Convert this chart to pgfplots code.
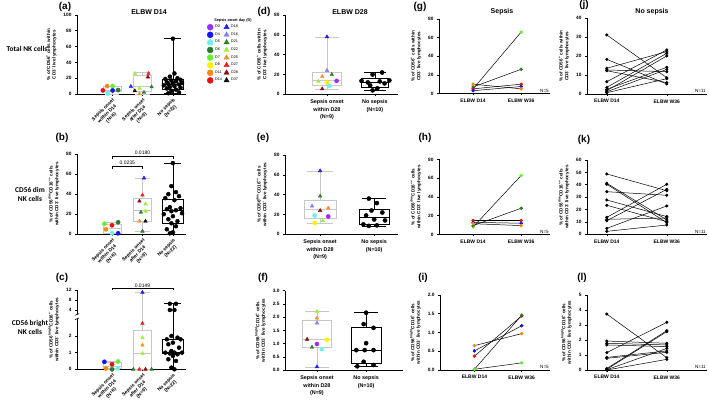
\documentclass[border=0pt]{standalone}
\usepackage{fontspec}
\setmainfont{Liberation Sans}
\newfontfamily\calib{Carlito}
\usepackage{pgfplots}
\pgfplotsset{compat=1.18}
\usepgfplotslibrary{statistics}

\definecolor{cD0}{HTML}{9B30FF}
\definecolor{cD4}{HTML}{1414F0}
\definecolor{cD5}{HTML}{70F0F0}
\definecolor{cD6}{HTML}{2A7A2A}
\definecolor{cD7}{HTML}{66EE33}
\definecolor{cD8}{HTML}{F5F500}
\definecolor{cD11}{HTML}{F08A10}
\definecolor{cD14}{HTML}{E81010}
\definecolor{cD18}{HTML}{2020F0}
\definecolor{cD16}{HTML}{8080F0}
\definecolor{cD21}{HTML}{2E7D2E}
\definecolor{cD22}{HTML}{99F033}
\definecolor{cD25}{HTML}{F59030}
\definecolor{cD27}{HTML}{F02020}
\definecolor{cD28}{HTML}{8B1010}
\definecolor{cD37}{HTML}{101010}
\definecolor{boxgray}{HTML}{C8C8C8}

\newcommand{\tf}{\fontsize{4.8}{5.4}\selectfont\bfseries}
\newcommand{\lf}{\fontsize{4.6}{5.6}\selectfont\bfseries}

\pgfplotsset{
  panel/.style={
    scale only axis, anchor=south west,
    axis lines=left, axis line style={line width=0.7pt, -},
    tick align=outside, major tick length=2pt,
    tick style={line width=0.6pt, black},
    ticklabel style={font=\tf},
    /pgf/number format/assume math mode=true,
    ylabel style={font=\lf, align=center},
    xticklabel style={align=center},
    ymin=0, clip=false,
    boxplot/draw direction=y,
  },
  rot/.style={xtick={0,1,2}, xticklabel style={rotate=45, anchor=north east, align=center, font=\fontsize{4.8}{5.8}\selectfont\bfseries, inner sep=1pt}},
  two/.style={xtick={0,1}, xticklabel style={font=\fontsize{5.4}{7.6}\selectfont\bfseries}},
  pairs/.style={xtick={0,1}, xticklabels={ELBW D14, ELBW W36}, xticklabel style={font=\fontsize{5}{6}\selectfont\bfseries}},
  sep/.style={scatter, only marks, scatter src=explicit symbolic, mark size=2.1pt,
    scatter/classes={
      d0={mark=*,cD0}, d4={mark=*,cD4}, d5={mark=*,cD5}, d6={mark=*,cD6},
      d7={mark=*,cD7}, d8={mark=*,cD8}, d11={mark=*,cD11}, d14={mark=*,cD14},
      d16={mark=triangle*,cD16}, d18={mark=triangle*,cD18}, d21={mark=triangle*,cD21},
      d22={mark=triangle*,cD22}, d25={mark=triangle*,cD25}, d27={mark=triangle*,cD27},
      d28={mark=triangle*,cD28}, d37={mark=triangle*,cD37}, k={mark=*,black}}},
  gbox/.style={draw=boxgray, line width=0.6pt, boxplot/draw direction=y},
  kbox/.style={draw=black, line width=0.7pt, boxplot/draw direction=y},
  pr/.style={black, line width=0.5pt, mark=*, mark size=1.3pt},
  cpr/.style={black, line width=0.5pt, mark=*, mark size=1.5pt, mark options={draw=#1, fill=#1}},
}

\begin{document}
\begin{tikzpicture}[x=1pt,y=1pt]
\path[use as bounding box] (0,0) rectangle (709,409);

% Row labels
\node[font=\calib\bfseries\fontsize{7.4}{9}\selectfont] at (27,360) {Total NK cells};
\node[font=\calib\bfseries\fontsize{7.4}{9}\selectfont, align=center] at (30,215) {CD56 dim\\NK cells};
\node[font=\calib\bfseries\fontsize{7.4}{9}\selectfont, align=center] at (30,82) {CD56 bright\\NK cells};

% Titles
\node[font=\bfseries\fontsize{7}{8}\selectfont] at (149,397) {ELBW D14};
\node[font=\bfseries\fontsize{7}{8}\selectfont] at (350,397) {ELBW D28};
\node[font=\bfseries\fontsize{7}{8}\selectfont] at (502,397) {Sepsis};
\node[font=\bfseries\fontsize{7}{8}\selectfont] at (652,397) {No sepsis};

% Panel letters
\begin{scope}[every node/.style={font=\bfseries\fontsize{10}{11}\selectfont}]
\node at (65,402) {(a)};
\node at (62,271) {(b)};
\node at (62,131) {(c)};
\node at (264,397) {(d)};
\node at (263,271) {(e)};
\node at (263,131) {(f)};
\node at (420,402) {(g)};
\node at (425,271) {(h)};
\node at (423,131) {(i)};
\node at (584,404) {(j)};
\node at (584,269) {(k)};
\node at (582,131) {(l)};
\end{scope}

% ---------- (a)
\begin{axis}[panel, rot, at={(77pt,315pt)}, width=109pt, height=79pt,
  xmin=-1.15, xmax=2.43, ymax=100, ytick={0,20,...,100},
  xticklabels={Sepsis onset\\within D14\\(N=6), Sepsis onset\\after D14\\(N=9), No sepsis\\(N=22)},
  ylabel={\% of CD56\textsuperscript{+} cells within\\CD3\textsuperscript{-} live lymphocytes}]
\addplot[gbox, boxplot prepared={lower whisker=0, lower quartile=3, median=5, upper quartile=9.5, upper whisker=10, draw position=0, box extend=0.6}] coordinates {};
\addplot[gbox, boxplot prepared={lower whisker=0, lower quartile=3.5, median=10, upper quartile=24, upper whisker=27, draw position=1, box extend=0.6}] coordinates {};
\addplot[kbox, boxplot prepared={lower whisker=1, lower quartile=6, median=12, upper quartile=18, upper whisker=70, draw position=2, box extend=0.7}] coordinates {};
\addplot[sep] table[row sep=\\, meta=c] {x y c\\ -0.16 10 d11\\ 0.02 10 d7\\ -0.3 4.5 d14\\ 0.02 4.5 d4\\ 0.2 5 d6\\ -0.14 0.5 d5\\};
\addplot[sep] table[row sep=\\, meta=c] {x y c\\ 0.75 26 d22\\ 1.2 26 d27\\ 1.18 21.5 d28\\ 0.62 9.5 d18\\ 0.75 4 d37\\ 0.9 7 d22\\ 1.05 2 d21\\ 0.9 0.5 d25\\ 1.3 9 d21\\};
\addplot[sep, mark size=2pt] table[row sep=\\, meta=c] {x y c\\ 2.0 70 k\\ 2.05 26 k\\ 1.9 22 k\\ 2.15 20 k\\ 1.75 19 k\\ 2.25 18 k\\ 1.95 17 k\\ 2.1 16 k\\ 1.8 15 k\\ 2.3 14 k\\ 2.0 13.5 k\\ 1.85 12.5 k\\ 2.2 12 k\\ 1.7 11 k\\ 2.05 10 k\\ 1.9 9 k\\ 2.25 8 k\\ 1.8 7 k\\ 2.1 5.5 k\\ 1.95 4 k\\ 2.2 2 k\\ 1.85 1 k\\};
\end{axis}

% ---------- (b)
\begin{axis}[panel, rot, at={(77pt,174.7pt)}, width=109pt, height=80.3pt,
  xmin=-1.15, xmax=2.43, ymax=80, ytick={0,20,...,80},
  xticklabels={Sepsis onset\\within D14\\(N=6), Sepsis onset\\after D14\\(N=9), No sepsis\\(N=22)},
  ylabel={\% of CD56\textsuperscript{dim}CD16\textsuperscript{++} cells\\within CD3\textsuperscript{-} live lymphocytes}]
\addplot[gbox, boxplot prepared={lower whisker=1, lower quartile=1, median=6, upper quartile=9.5, upper whisker=12, draw position=0, box extend=0.6}] coordinates {};
\addplot[gbox, boxplot prepared={lower whisker=3, lower quartile=13, median=23.5, upper quartile=36, upper whisker=56, draw position=1, box extend=0.6}] coordinates {};
\addplot[kbox, boxplot prepared={lower whisker=0, lower quartile=11, median=23.5, upper quartile=35, upper whisker=71, draw position=2, box extend=0.7}] coordinates {};
\addplot[sep] table[row sep=\\, meta=c] {x y c\\ -0.25 10.5 d7\\ 0.0 9 d14\\ 0.2 12 d6\\ -0.2 5 d11\\ 0.0 1 d5\\ 0.2 1 d4\\};
\addplot[sep] table[row sep=\\, meta=c] {x y c\\ 1.05 56 d18\\ 1.0 39 d27\\ 0.9 33 d28\\ 1.1 30 d22\\ 1.1 23 d22\\ 0.95 22 d21\\ 0.9 13 d25\\ 1.1 13 d37\\ 1.0 3 d21\\};
\addplot[sep, mark size=2pt] table[row sep=\\, meta=c] {x y c\\ 2.0 71 k\\ 1.95 48 k\\ 2.1 42 k\\ 1.85 40 k\\ 2.2 38 k\\ 1.75 36 k\\ 2.05 34 k\\ 1.9 27 k\\ 2.25 26 k\\ 1.8 25 k\\ 2.1 24 k\\ 1.95 23 k\\ 2.3 21 k\\ 1.7 20 k\\ 2.0 18 k\\ 1.85 15 k\\ 2.15 13 k\\ 1.95 11 k\\ 2.1 8 k\\ 1.8 5 k\\ 2.0 2 k\\ 1.9 1 k\\};
\draw[line width=0.5pt] (axis cs:0,65.5) -- (axis cs:0,68) -- (axis cs:1,68) -- (axis cs:1,65.5);
\node[font=\fontsize{5}{6}\selectfont, above, inner sep=0.8pt] at (axis cs:0.5,68) {0.0235};
\draw[line width=0.5pt] (axis cs:0,75.5) -- (axis cs:0,78) -- (axis cs:2,78) -- (axis cs:2,75.5);
\node[font=\fontsize{5}{6}\selectfont, above, inner sep=0.8pt] at (axis cs:1,78) {0.0180};
\end{axis}

% ---------- (c) broken axis: values above 4 mapped as 3.56+(v-4)*0.15
\begin{axis}[panel, rot, at={(77pt,39.7pt)}, width=109pt, height=79.3pt,
  xmin=-1.15, xmax=2.43, ymax=4.76,
  y axis line style={draw=none},
  ytick={0,1,2,3.56,4.16,4.76}, yticklabels={0,1,2,4,8,12},
  xticklabels={Sepsis onset\\within D14\\(N=6), Sepsis onset\\after D14\\(N=9), No sepsis\\(N=22)},
  ylabel={\% of CD56\textsuperscript{bright}CD16\textsuperscript{+} cells\\within CD3\textsuperscript{-} live lymphocytes}]
\draw[line width=0.7pt] (axis cs:-1.15,0) -- (axis cs:-1.15,3.02);
\draw[line width=0.7pt] (axis cs:-1.15,3.3) -- (axis cs:-1.15,4.76);
\draw[line width=0.6pt] (axis cs:-1.22,2.98) -- (axis cs:-1.08,3.08);
\draw[line width=0.6pt] (axis cs:-1.22,3.24) -- (axis cs:-1.08,3.34);
\addplot[gbox, boxplot prepared={lower whisker=0, lower quartile=0.05, median=0.2, upper quartile=0.45, upper whisker=0.47, draw position=0, box extend=0.6}] coordinates {};
\addplot[gbox, boxplot prepared={lower whisker=0, lower quartile=0, median=0.95, upper quartile=2.35, upper whisker=4.61, draw position=1, box extend=0.6}] coordinates {};
\addplot[kbox, boxplot prepared={lower whisker=0, lower quartile=0.95, median=1.0, upper quartile=1.8, upper whisker=3.935, draw position=2, box extend=0.7}] coordinates {};
\addplot[sep] table[row sep=\\, meta=c] {x y c\\ -0.25 0.45 d4\\ 0.2 0.47 d7\\ 0.0 0.3 d14\\ -0.2 0.05 d11\\ 0.0 0.0 d6\\ 0.2 0.05 d5\\};
\addplot[sep] table[row sep=\\, meta=c] {x y c\\ 1.0 4.61 d18\\ 1.0 2.75 d27\\ 1.0 1.9 d22\\ 1.0 1.45 d25\\ 1.0 0.95 d22\\ 0.7 0 d21\\ 0.9 0 d27\\ 1.1 0 d28\\ 1.3 0 d21\\};
\addplot[sep, mark size=2pt] table[row sep=\\, meta=c] {x y c\\ 1.9 3.935 k\\ 2.1 3.935 k\\ 1.9 3.56 k\\ 2.05 3.56 k\\ 1.95 2.0 k\\ 2.15 1.9 k\\ 1.8 1.8 k\\ 2.25 1.8 k\\ 2.0 1.6 k\\ 1.85 1.5 k\\ 2.2 1.3 k\\ 1.95 1.1 k\\ 1.75 1.0 k\\ 2.05 1.0 k\\ 2.3 1.0 k\\ 1.9 0.95 k\\ 2.15 0.9 k\\ 2.0 0.8 k\\ 1.85 0.6 k\\ 2.1 0.5 k\\ 1.95 0.1 k\\ 2.05 0.0 k\\};
\draw[line width=0.5pt] (axis cs:0,4.76) -- (axis cs:0,4.84) -- (axis cs:2,4.84) -- (axis cs:2,4.76);
\node[font=\fontsize{5}{6}\selectfont, above, inner sep=0.8pt] at (axis cs:1,4.84) {0.0149};
\end{axis}

% ---------- (d)
\begin{axis}[panel, two, at={(285pt,314.7pt)}, width=113pt, height=79.3pt,
  xmin=-0.875, xmax=1.48, ymax=80, ytick={0,20,...,80},
  xticklabels={Sepsis onset\\within D28\\(N=9), No sepsis\\(N=10)},
  ylabel={\% of CD56\textsuperscript{+} cells within\\CD3\textsuperscript{-} live lymphocytes}]
\addplot[gbox, boxplot prepared={lower whisker=5, lower quartile=9.5, median=14, upper quartile=22, upper whisker=58, draw position=0, box extend=0.6}] coordinates {};
\addplot[kbox, boxplot prepared={lower whisker=4, lower quartile=7.5, median=12, upper quartile=16, upper whisker=22, draw position=1, box extend=0.55}] coordinates {};
\addplot[sep] table[row sep=\\, meta=c] {x y c\\ 0.0 58 d18\\ 0.0 24 d16\\ 0.1 20 d21\\ -0.1 18 d25\\ -0.18 13 d22\\ 0.2 13.5 d0\\ 0.0 12 d8\\ 0.05 8.5 d5\\ -0.1 5.5 d28\\};
\addplot[sep, mark size=2.1pt] table[row sep=\\, meta=c] {x y c\\ 1.15 22 k\\ 0.95 20 k\\ 1.3 14 k\\ 0.72 13.5 k\\ 1.1 13 k\\ 0.85 12 k\\ 1.2 11 k\\ 0.9 9 k\\ 1.05 6 k\\ 0.95 4 k\\};
\end{axis}

% ---------- (e)
\begin{axis}[panel, two, at={(285pt,174.7pt)}, width=113pt, height=79.3pt,
  xmin=-0.65, xmax=1.44, ymax=80, ytick={0,20,...,80},
  xticklabels={Sepsis onset\\within D28\\(N=9), No sepsis\\(N=10)},
  ylabel={\% of CD56\textsuperscript{dim}CD16\textsuperscript{++} cells\\within CD3\textsuperscript{-} live lymphocytes}]
\addplot[gbox, boxplot prepared={lower whisker=11, lower quartile=16.5, median=25, upper quartile=34, upper whisker=64, draw position=0, box extend=0.6}] coordinates {};
\addplot[kbox, boxplot prepared={lower whisker=8, lower quartile=10, median=17.5, upper quartile=25, upper whisker=36, draw position=1, box extend=0.55}] coordinates {};
\addplot[sep] table[row sep=\\, meta=c] {x y c\\ 0.0 64 d18\\ 0.0 38.5 d21\\ -0.15 28.5 d16\\ 0.15 26.5 d25\\ 0.0 24 d28\\ -0.1 19 d5\\ 0.15 18 d0\\ 0.05 13.5 d22\\ -0.1 11.5 d8\\};
\addplot[sep, mark size=2.1pt] table[row sep=\\, meta=c] {x y c\\ 0.9 36 k\\ 1.05 31.5 k\\ 0.95 24 k\\ 1.15 22 k\\ 0.85 19 k\\ 1.0 15 k\\ 1.2 14 k\\ 0.8 10 k\\ 1.05 9 k\\ 0.9 8.5 k\\};
\end{axis}

% ---------- (f)
\begin{axis}[panel, two, at={(285pt,38.7pt)}, width=118pt, height=79.6pt,
  xmin=-0.65, xmax=1.75, ymax=3, ytick={0,0.5,...,3},
  yticklabel style={/pgf/number format/.cd, fixed, fixed zerofill, precision=1},
  xticklabels={Sepsis onset\\within D28\\(N=9), No sepsis\\(N=10)},
  ylabel={\% of CD56\textsuperscript{bright}CD16\textsuperscript{+} cells\\within CD3\textsuperscript{-} live lymphocytes}]
\addplot[gbox, boxplot prepared={lower whisker=0.13, lower quartile=0.85, median=1.15, upper quartile=1.87, upper whisker=2.22, draw position=0, box extend=0.6}] coordinates {};
\addplot[kbox, boxplot prepared={lower whisker=0.15, lower quartile=0.28, median=0.76, upper quartile=1.62, upper whisker=2.17, draw position=1, box extend=0.6}] coordinates {};
\addplot[sep] table[row sep=\\, meta=c] {x y c\\ 0.0 2.22 d22\\ 0.0 1.97 d25\\ 0.0 1.78 d16\\ -0.2 1.17 d28\\ 0.2 1.15 d8\\ 0.0 0.99 d0\\ -0.1 0.87 d21\\ 0.1 0.8 d5\\ 0.0 0.13 d18\\};
\addplot[sep, mark size=2.1pt] table[row sep=\\, meta=c] {x y c\\ 1.0 2.17 k\\ 0.95 1.74 k\\ 1.15 1.6 k\\ 1.0 1.02 k\\ 0.8 0.76 k\\ 0.97 0.76 k\\ 1.15 0.76 k\\ 0.95 0.32 k\\ 1.15 0.2 k\\ 0.82 0.15 k\\};
\end{axis}

% ---------- (g)
\begin{axis}[panel, pairs, at={(439pt,315.5pt)}, width=111pt, height=74.5pt,
  xmin=-0.71, xmax=1.6, ymax=80, ytick={0,20,...,80},
  ylabel={\% of CD56\textsuperscript{+} cells within\\CD3\textsuperscript{-} live lymphocytes}]
\addplot[cpr=cD7] coordinates {(0,5) (1,66)};
\addplot[cpr=cD6] coordinates {(0,7) (1,26)};
\addplot[cpr=cD14] coordinates {(0,5) (1,10)};
\addplot[cpr=cD4] coordinates {(0,3) (1,7.5)};
\addplot[cpr=cD11] coordinates {(0,10) (1,5)};
\node[font=\fontsize{4.6}{5}\selectfont, anchor=south east, inner sep=1pt] at (rel axis cs:1,0) {N=5};
\end{axis}

% ---------- (h)
\begin{axis}[panel, pairs, at={(439pt,174.5pt)}, width=111pt, height=75pt,
  xmin=-0.71, xmax=1.6, ymax=80, ytick={0,20,...,80},
  ylabel={\% of CD56\textsuperscript{dim}CD16\textsuperscript{++} cells\\within CD3\textsuperscript{-} live lymphocytes}]
\addplot[cpr=cD7] coordinates {(0,8) (1,63)};
\addplot[cpr=cD6] coordinates {(0,9.5) (1,28)};
\addplot[cpr=cD14] coordinates {(0,15) (1,15)};
\addplot[cpr=cD4] coordinates {(0,13) (1,12)};
\addplot[cpr=cD11] coordinates {(0,11.5) (1,9.5)};
\node[font=\fontsize{4.6}{5}\selectfont, anchor=south east, inner sep=1pt] at (rel axis cs:1,0) {N=5};
\end{axis}

% ---------- (i)
\begin{axis}[panel, pairs, at={(440pt,39pt)}, width=110pt, height=75pt,
  xmin=-0.73, xmax=1.6, ymax=2, ytick={0,0.5,...,2},
  yticklabel style={/pgf/number format/.cd, fixed, fixed zerofill, precision=1},
  ylabel={\% of CD56\textsuperscript{bright}CD16\textsuperscript{+} cells\\within CD3\textsuperscript{-} live lymphocytes}]
\addplot[cpr=cD11] coordinates {(0,0.65) (1,0.97)};
\addplot[cpr=cD4] coordinates {(0,0.51) (1,1.18)};
\addplot[cpr=cD14] coordinates {(0,0.37) (1,1.44)};
\addplot[cpr=cD6] coordinates {(0,0.02) (1,1.46)};
\addplot[cpr=cD7] coordinates {(0,0.02) (1,0.19)};
\node[font=\fontsize{4.6}{5}\selectfont, anchor=south east, inner sep=1pt] at (rel axis cs:1,0) {N=5};
\end{axis}

% ---------- (j)
\begin{axis}[panel, pairs, at={(587pt,315pt)}, width=120pt, height=75.7pt,
  xmin=-0.33, xmax=1.67, ymax=40, ytick={0,10,...,40},
  ylabel={\% of CD56\textsuperscript{+} cells within\\CD3\textsuperscript{-} live lymphocytes}]
\addplot[pr] coordinates {(0,31.2) (1,8.6)};
\addplot[pr] coordinates {(0,18.3) (1,5.3)};
\addplot[pr] coordinates {(0,13.6) (1,22.4)};
\addplot[pr] coordinates {(0,12.7) (1,11.8)};
\addplot[pr] coordinates {(0,12.3) (1,6)};
\addplot[pr] coordinates {(0,6.5) (1,23.3)};
\addplot[pr] coordinates {(0,3.5) (1,21.5)};
\addplot[pr] coordinates {(0,2.5) (1,14.1)};
\addplot[pr] coordinates {(0,1.8) (1,20.1)};
\addplot[pr] coordinates {(0,1.2) (1,13)};
\addplot[pr] coordinates {(0,0.7) (1,8.1)};
\node[font=\fontsize{4.6}{5}\selectfont, anchor=south east, inner sep=1pt] at (rel axis cs:1,0) {N=11};
\end{axis}

% ---------- (k)
\begin{axis}[panel, pairs, at={(587pt,174.7pt)}, width=120pt, height=74.3pt,
  xmin=-0.33, xmax=1.67, ymax=60, ytick={0,10,...,60},
  ylabel={\% of CD56\textsuperscript{dim}CD16\textsuperscript{++} cells\\within CD3\textsuperscript{-} live lymphocytes}]
\addplot[pr] coordinates {(0,48.7) (1,35.2)};
\addplot[pr] coordinates {(0,41.2) (1,11.6)};
\addplot[pr] coordinates {(0,40.4) (1,9.4)};
\addplot[pr] coordinates {(0,34.4) (1,31.5)};
\addplot[pr] coordinates {(0,27.7) (1,14.3)};
\addplot[pr] coordinates {(0,23.4) (1,10.2)};
\addplot[pr] coordinates {(0,13.7) (1,40.4)};
\addplot[pr] coordinates {(0,12.1) (1,13.2)};
\addplot[pr] coordinates {(0,11) (1,36.3)};
\addplot[pr] coordinates {(0,4.8) (1,22.9)};
\addplot[pr] coordinates {(0,2.4) (1,7.5)};
\node[font=\fontsize{4.6}{5}\selectfont, anchor=south east, inner sep=1pt] at (rel axis cs:1,0) {N=11};
\end{axis}

% ---------- (l)
\begin{axis}[panel, pairs, at={(587pt,39pt)}, width=120pt, height=75pt,
  xmin=-0.33, xmax=1.67, ymax=5, ytick={0,1,...,5},
  ylabel={\% of CD56\textsuperscript{bright}CD16\textsuperscript{+} cells\\within CD3\textsuperscript{-} live lymphocytes}]
\addplot[pr] coordinates {(0,3.73) (1,0.82)};
\addplot[pr] coordinates {(0,1.93) (1,1.78)};
\addplot[pr] coordinates {(0,1.78) (1,1.67)};
\addplot[pr] coordinates {(0,1.67) (1,1.56)};
\addplot[pr] coordinates {(0,1.16) (1,3.18)};
\addplot[pr] coordinates {(0,0.84) (1,1.27)};
\addplot[pr] coordinates {(0,0.78) (1,1.18)};
\addplot[pr] coordinates {(0,0.1) (1,2.62)};
\addplot[pr] coordinates {(0,0.05) (1,2.56)};
\addplot[pr] coordinates {(0,0.02) (1,1.44)};
\addplot[pr] coordinates {(0,0.0) (1,0.71)};
\node[font=\fontsize{4.6}{5}\selectfont, anchor=south east, inner sep=1pt] at (rel axis cs:1,0) {N=11};
\end{axis}

% ---------- legend
\node[font=\bfseries\fontsize{3.8}{4.5}\selectfont] at (233,388) {Sepsis onset day (D)};
\begin{axis}[hide axis, scale only axis, width=10pt, height=10pt, anchor=north west,
  at={(207pt,385pt)}, xmin=0, xmax=1, ymin=0, ymax=1,
  legend columns=2,
  legend style={at={(0,1)}, anchor=north west, draw=none, fill=none,
    font=\fontsize{3.8}{4}\selectfont, inner sep=0pt, row sep=1.6pt, column sep=1.5pt,
    nodes={inner sep=0.4pt}},
  legend cell align=left, legend image code/.code={\draw[#1] plot coordinates {(0.12cm,0cm)};}]
\addlegendimage{only marks, mark=*, mark size=3pt, cD0}\addlegendentry{D0}
\addlegendimage{only marks, mark=triangle*, mark size=3pt, cD18}\addlegendentry{D18}
\addlegendimage{only marks, mark=*, mark size=3pt, cD4}\addlegendentry{D4}
\addlegendimage{only marks, mark=triangle*, mark size=3pt, cD16}\addlegendentry{D16}
\addlegendimage{only marks, mark=*, mark size=3pt, cD5}\addlegendentry{D5}
\addlegendimage{only marks, mark=triangle*, mark size=3pt, cD21}\addlegendentry{D21}
\addlegendimage{only marks, mark=*, mark size=3pt, cD6}\addlegendentry{D6}
\addlegendimage{only marks, mark=triangle*, mark size=3pt, cD22}\addlegendentry{D22}
\addlegendimage{only marks, mark=*, mark size=3pt, cD7}\addlegendentry{D7}
\addlegendimage{only marks, mark=triangle*, mark size=3pt, cD25}\addlegendentry{D25}
\addlegendimage{only marks, mark=*, mark size=3pt, cD8}\addlegendentry{D8}
\addlegendimage{only marks, mark=triangle*, mark size=3pt, cD27}\addlegendentry{D27}
\addlegendimage{only marks, mark=*, mark size=3pt, cD11}\addlegendentry{D11}
\addlegendimage{only marks, mark=triangle*, mark size=3pt, cD28}\addlegendentry{D28}
\addlegendimage{only marks, mark=*, mark size=3pt, cD14}\addlegendentry{D14}
\addlegendimage{only marks, mark=triangle*, mark size=3pt, cD37}\addlegendentry{D37}
\end{axis}
\end{tikzpicture}
\end{document}
